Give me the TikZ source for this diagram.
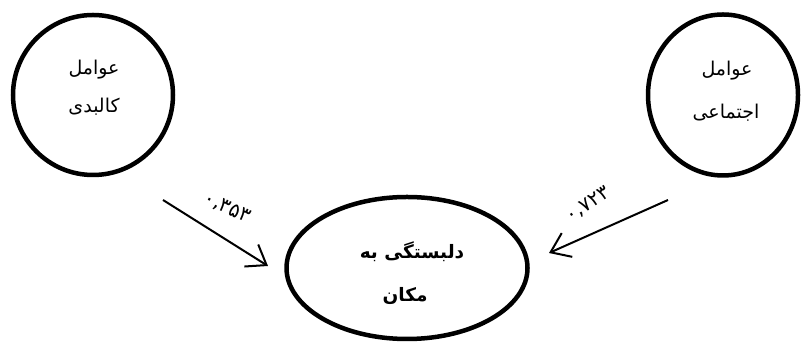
\documentclass[tikz,border=0pt]{standalone}
\usepackage{fontspec}
\usetikzlibrary{arrows.meta,shapes.geometric}
\TeXXeTstate=1
\newfontfamily\arabicfont[Script=Arabic]{DejaVu Sans}
\begin{document}
\begin{tikzpicture}[x=1pt,y=1pt,
  shapeline/.style={draw=black, line width=4.5pt, inner sep=0pt},
  circtext/.style={font=\arabicfont\fontsize{19}{22}\selectfont, inner sep=0pt},
  elltext/.style={font=\arabicfont\bfseries\fontsize{18.5}{22}\selectfont, inner sep=0pt},
  numtext/.style={font=\arabicfont\fontsize{20}{23}\selectfont, inner sep=0pt},
  conn/.style={line width=2pt, -{Straight Barb[length=18pt,width=26pt,line width=2pt]}}]
\fill[white] (0,0) rectangle (802,344);
\useasboundingbox (0,0) rectangle (802,344);
\node[shapeline, circle, minimum size=160pt] (kal) at (93,249) {};
\node[shapeline, ellipse, minimum width=150pt, minimum height=161pt] (ejt) at (723,249) {};
\node[shapeline, ellipse, minimum width=241pt, minimum height=142pt] (dal) at (407,76) {};
\node[circtext] (kal1) at (94,274) {\beginR عوامل\endR};
\node[circtext] (kal2) at (94,237) {\beginR کالبدی\endR};
\node[circtext] (ejt1) at (727,273) {\beginR عوامل\endR};
\node[circtext] (ejt2) at (726,231) {\beginR اجتماعی\endR};
\node[elltext] (dal1) at (412,92) {\beginR دلبستگی به\endR};
\node[elltext] (dal2) at (405,48) {\beginR مکان\endR};
\coordinate (s1) at (163,144);
\coordinate (e1) at (268,78);
\coordinate (s2) at (668,144);
\coordinate (e2) at (549,91);
\draw[conn] (s1) -- (e1);
\draw[conn] (s2) -- (e2);
\node[numtext, rotate=-25] (n1) at (227,136) {۰,۳۵۳};
\node[numtext, rotate=33] (n2) at (588,139) {۰,۷۲۳};
\end{tikzpicture}
\end{document}
